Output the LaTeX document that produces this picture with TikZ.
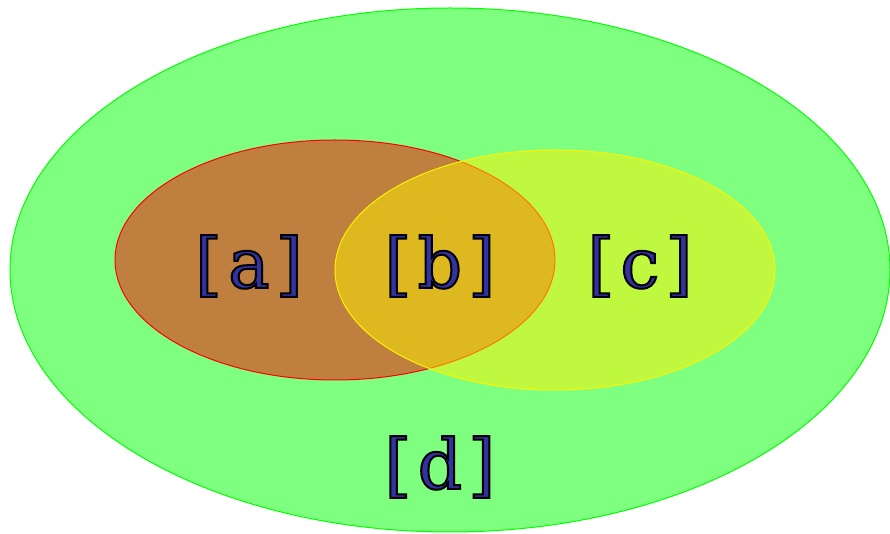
\documentclass[tikz,border=0pt]{standalone}
\usepackage{fontspec}
\newfontfamily\labelfont[LetterSpace=9]{DejaVu Serif}
\definecolor{labelblue}{RGB}{50,50,160}
% outlined glyphs: fill blue, stroke black
\newcommand{\outlined}[1]{\textcolor{labelblue}{\special{pdf:code 0 0 0 RG 1.5 w 2 Tr}#1\special{pdf:code 0 Tr}}}
\begin{document}
\begin{tikzpicture}[x=0.75pt,y=-0.75pt,set/.style={line width=0.75pt,fill opacity=0.5},lbl/.style={font=\fontsize{52}{56}\labelfont,inner sep=0pt}]
\useasboundingbox (0,0) rectangle (890,534);
\path[set,draw=green,fill=green] (450,270) ellipse [x radius=440,y radius=262];
\path[set,draw=red,fill=red] (335,260) ellipse [x radius=220,y radius=120];
\path[set,draw=yellow,fill=yellow] (555,270) ellipse [x radius=220,y radius=120];
\node[lbl] (a) at (249,266) {\outlined{[a]}};
\node[lbl] (b) at (440,266) {\outlined{[b]}};
\node[lbl] (c) at (640,266) {\outlined{[c]}};
\node[lbl] (d) at (440,467) {\outlined{[d]}};
\end{tikzpicture}
\end{document}
